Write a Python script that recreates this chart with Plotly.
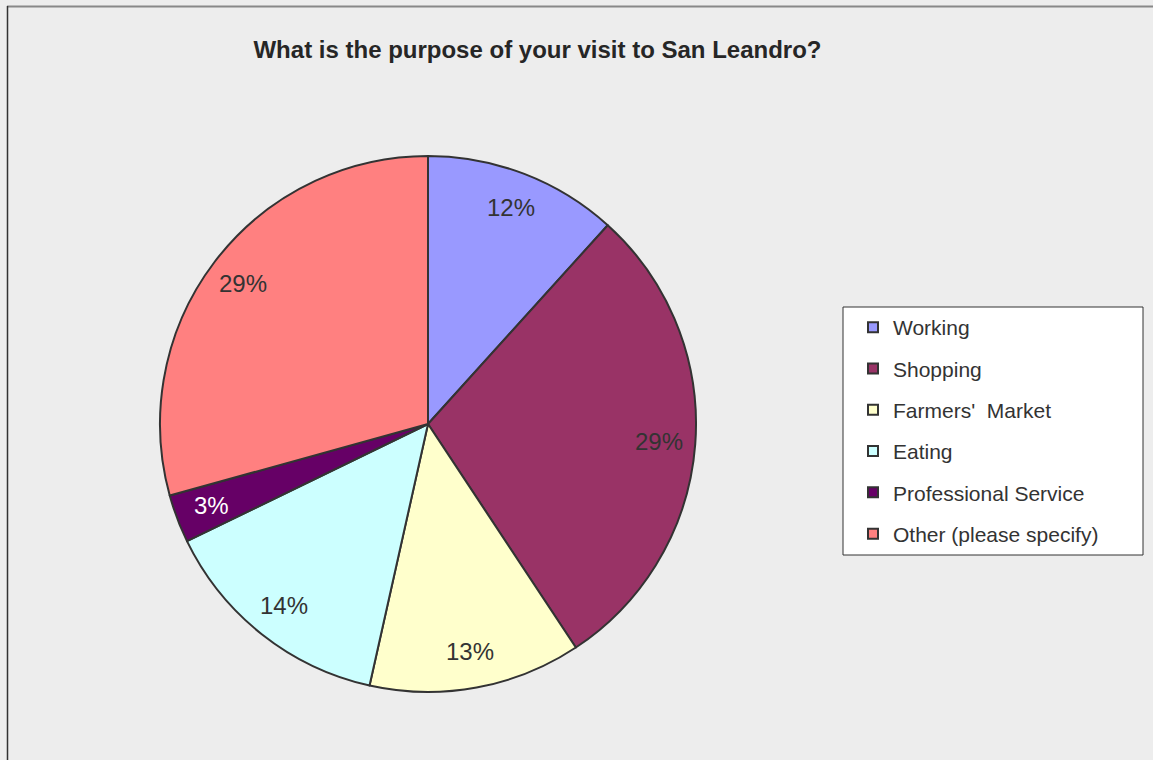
import math
import plotly.graph_objects as go

categories = ["Working", "Shopping", "Farmers'  Market", "Eating", "Professional Service", "Other (please specify)"]
values = [11.7, 29.0, 12.8, 14.3, 2.9, 29.3]
colors = ["#9999FF", "#993366", "#FFFFCC", "#CCFFFF", "#660066", "#FF8080"]
label_colors = ["#333333", "#333333", "#333333", "#333333", "#FFFFFF", "#333333"]

W, H = 1153, 760
cx, cy, R = 428, 424, 268  # pixel geometry of pie

dom_x = [(cx - R) / W, (cx + R) / W]
dom_y = [(H - cy - R) / H, (H - cy + R) / H]

fig = go.Figure()
fig.add_trace(go.Pie(
    labels=categories, values=values, sort=False, direction="clockwise", rotation=0,
    marker=dict(colors=colors, line=dict(color="#333333", width=2)),
    textinfo="none", showlegend=False, domain=dict(x=dom_x, y=dom_y),
))

for i, (c, col) in enumerate(zip(categories, colors)):
    fig.add_trace(go.Scatter(
        x=[None], y=[None], mode="markers", name=c, legendgroup=c,
        marker=dict(symbol="square", size=10, color=col, line=dict(color="#333333", width=2)),
    ))

# percentage labels positioned from data
total = sum(values)
cum = 0
annotations = []
for v, lc in zip(values, label_colors):
    mid = (cum + v / 2) / total * 2 * math.pi
    cum += v
    r = 0.865 * R
    px = cx + r * math.sin(mid)
    py = cy - r * math.cos(mid)
    annotations.append(dict(
        x=px / W, y=1 - py / H, xref="paper", yref="paper",
        xanchor="center", yanchor="middle",
        text=f"{round(v / total * 100)}%", showarrow=False,
        font=dict(size=24, color=lc, family="Liberation Sans, Arial"),
    ))

fig.update_layout(
    width=W, height=H,
    margin=dict(l=0, r=0, t=0, b=0),
    paper_bgcolor="#EDEDED", plot_bgcolor="#EDEDED",
    xaxis=dict(visible=False), yaxis=dict(visible=False),
    title=dict(text="<b>What is the purpose of your visit to San Leandro?</b>",
               x=537.5 / W, y=1 - 50 / H, xanchor="center", yanchor="middle",
               font=dict(size=24, color="#262626", family="Liberation Sans, Arial")),
    annotations=annotations,
    legend=dict(x=853 / W, y=1 - 307 / H, xanchor="left", yanchor="top",
                bgcolor="rgba(0,0,0,0)", borderwidth=0,
                font=dict(size=21, color="#333333", family="Liberation Sans, Arial"),
                tracegroupgap=11, traceorder="grouped", itemclick=False),
    shapes=[
        dict(type="rect", xref="paper", yref="paper", x0=843 / W, x1=1143 / W,
             y0=1 - 555 / H, y1=1 - 307 / H, line=dict(color="#333333", width=1),
             fillcolor="white", layer="below"),
        dict(type="line", xref="paper", yref="paper", x0=7 / W, x1=1, y0=1 - 6.5 / H, y1=1 - 6.5 / H,
             line=dict(color="#888888", width=2)),
        dict(type="line", xref="paper", yref="paper", x0=7.5 / W, x1=7.5 / W, y0=0, y1=1 - 6 / H,
             line=dict(color="#333333", width=1.5)),
    ],
)

fig.write_html("out.html", config={"displayModeBar": False},
               post_script="document.body.style.margin='0';")
